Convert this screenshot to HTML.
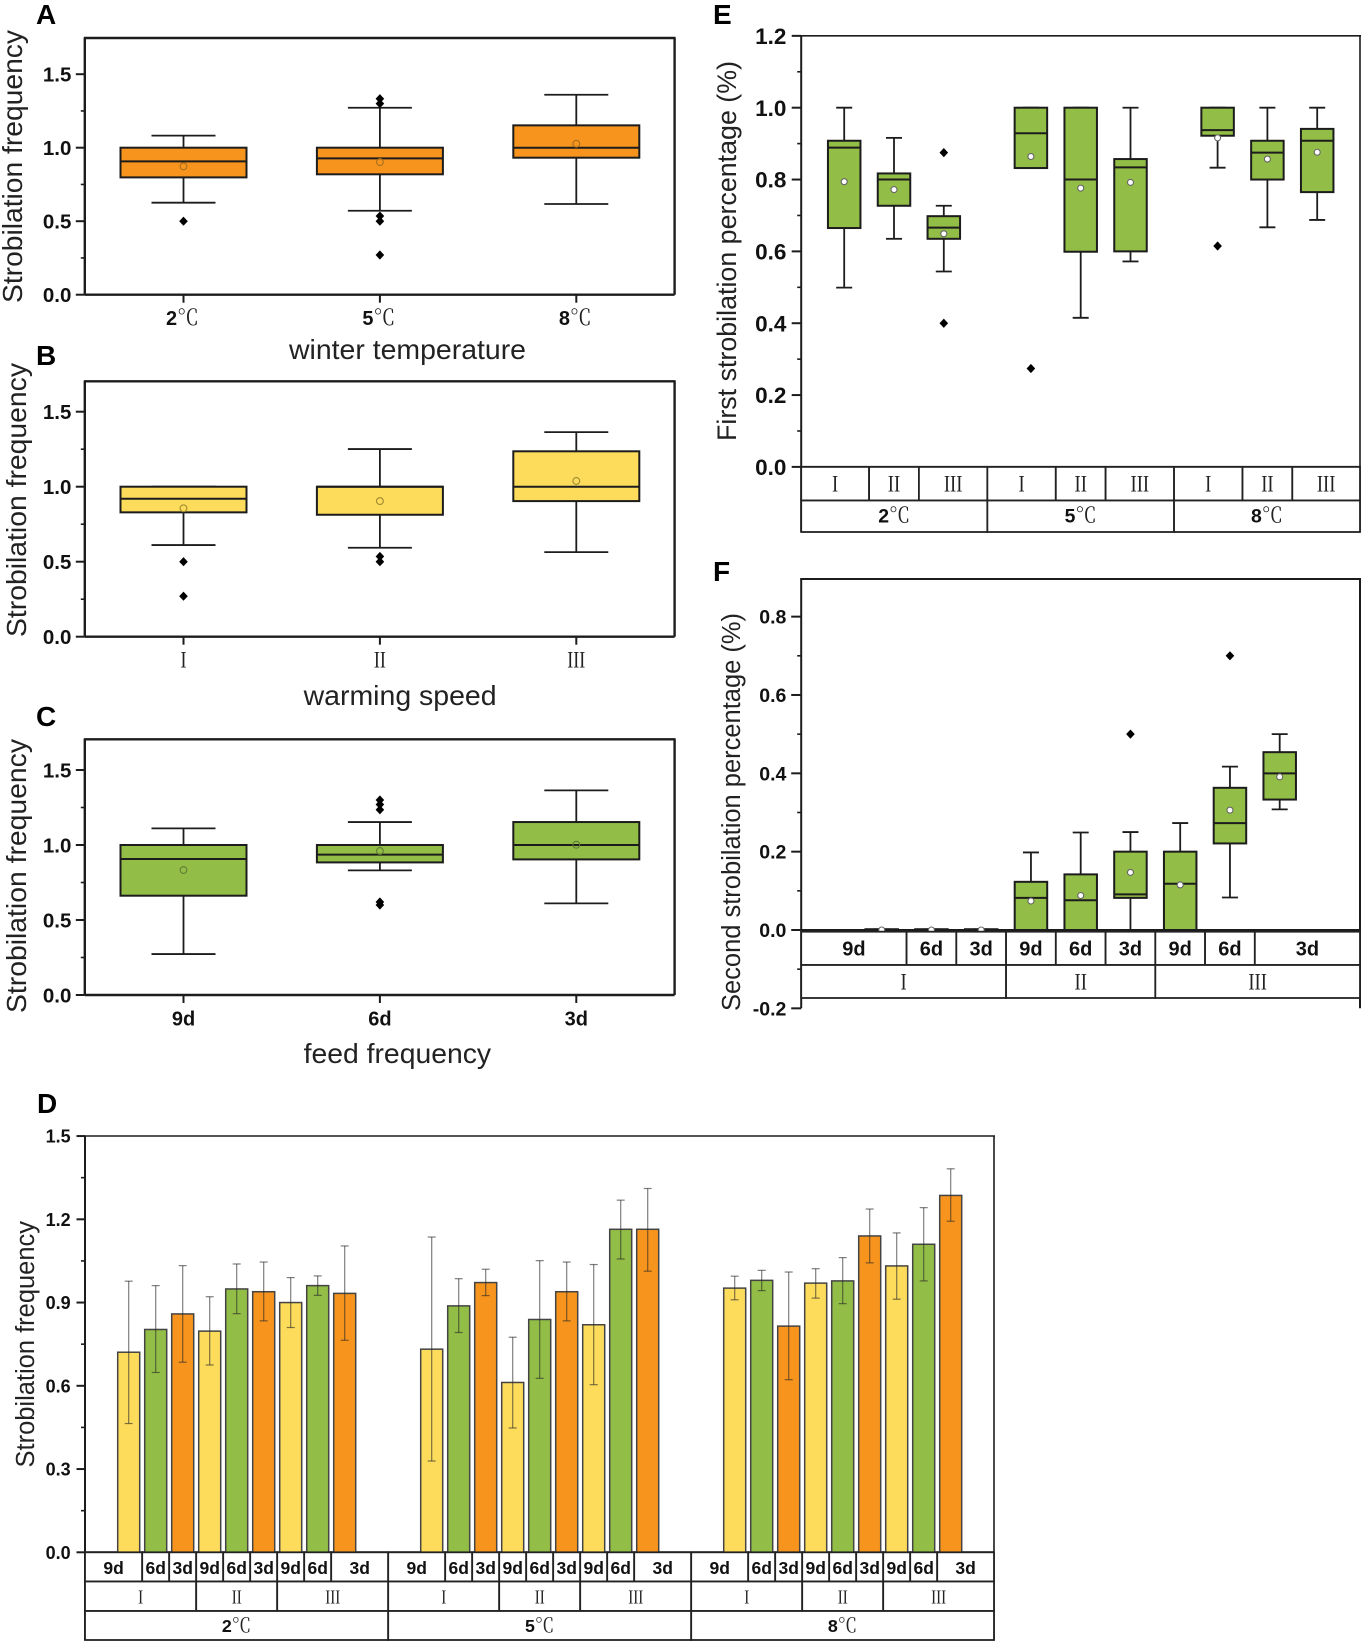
<!DOCTYPE html>
<html lang="en">
<head>
<meta charset="utf-8">
<title>Strobilation charts</title>
<style>
html,body{margin:0;padding:0;background:#fff}
svg{display:block}
text{font-family:"Liberation Sans","Noto Sans CJK SC",sans-serif;fill:#111}
.letter{font-size:28px;font-weight:bold;fill:#000}
.axt{font-size:28px;fill:#222}
</style>
</head>
<body>
<svg id="figure" xmlns="http://www.w3.org/2000/svg" width="1361" height="1642" viewBox="0 0 1361 1642">
  <rect width="1361" height="1642" fill="#fff"/>
  <g id="panel-a"></g>
  <g id="panel-b"></g>
  <g id="panel-c"></g>
  <g id="panel-d"></g>
  <g id="panel-e"></g>
  <g id="panel-f"></g>

  <text class="letter" x="36" y="24">A</text>
  <text class="letter" x="36" y="365">B</text>
  <text class="letter" x="36" y="726">C</text>
  <text class="letter" x="37" y="1113">D</text>
  <text class="letter" x="713" y="24">E</text>
  <text class="letter" x="713" y="581">F</text>

  <text class="axt" transform="translate(22,303) rotate(-90)" textLength="273" lengthAdjust="spacingAndGlyphs">Strobilation frequency</text>
  <text class="axt" transform="translate(26,637) rotate(-90)" textLength="274" lengthAdjust="spacingAndGlyphs">Strobilation frequency</text>
  <text class="axt" transform="translate(26,1013) rotate(-90)" textLength="274" lengthAdjust="spacingAndGlyphs">Strobilation frequency</text>
  <text class="axt" style="font-size:25.5px" transform="translate(34,1467.5) rotate(-90)" textLength="246.5" lengthAdjust="spacingAndGlyphs">Strobilation frequency</text>
  <text class="axt" style="font-size:27px" transform="translate(736,441) rotate(-90)" textLength="380" lengthAdjust="spacingAndGlyphs">First strobilation percentage (%)</text>
  <text class="axt" style="font-size:25.5px" transform="translate(740,1011) rotate(-90)" textLength="398" lengthAdjust="spacingAndGlyphs">Second strobilation percentage (%)</text>

  <text class="axt" style="font-size:28px" x="289" y="359" textLength="237" lengthAdjust="spacingAndGlyphs">winter temperature</text>
  <text class="axt" style="font-size:28px" x="303.6" y="705" textLength="193" lengthAdjust="spacingAndGlyphs">warming speed</text>
  <text class="axt" style="font-size:28px" x="303.6" y="1063" textLength="187.5" lengthAdjust="spacingAndGlyphs">feed frequency</text>
</svg>

<script>
// ---------- Panel A data ----------
const panelACategories = ['2℃', '5℃', '8℃'];
const panelAWhiskerHigh = [1.082, 1.272, 1.36];
const panelAQ3 = [1.0, 1.0, 1.152];
const panelAMedian = [0.907, 0.927, 1.0];
const panelAQ1 = [0.798, 0.819, 0.932];
const panelAWhiskerLow = [0.626, 0.571, 0.617];
const panelAMean = [0.873, 0.902, 1.027];
const panelAOutliers = [[0.5], [1.333, 1.30, 0.535, 0.5, 0.27], []];
const panelATicks = ['0.0', '0.5', '1.0', '1.5'];
const panelAMinorTicks = [0.25, 0.75, 1.25];

// ---------- Panel B data ----------
const panelBCategories = ['I', 'II', 'III'];
const panelBWhiskerHigh = [1.0, 1.251, 1.364];
const panelBQ3 = [1.0, 1.0, 1.236];
const panelBMedian = [0.92, 1.0, 1.0];
const panelBQ1 = [0.829, 0.813, 0.904];
const panelBWhiskerLow = [0.611, 0.593, 0.564];
const panelBMean = [0.856, 0.904, 1.038];
const panelBOutliers = [[0.5, 0.27], [0.535, 0.5], []];
const panelBTicks = ['0.0', '0.5', '1.0', '1.5'];
const panelBMinorTicks = [0.25, 0.75, 1.25];

// ---------- Panel C data ----------
const panelCCategories = ['9d', '6d', '3d'];
const panelCWhiskerHigh = [1.111, 1.153, 1.364];
const panelCQ3 = [1.0, 1.0, 1.153];
const panelCMedian = [0.907, 0.936, 1.0];
const panelCQ1 = [0.662, 0.884, 0.904];
const panelCWhiskerLow = [0.273, 0.831, 0.611];
const panelCMean = [0.833, 0.96, 1.002];
const panelCOutliers = [[], [1.30, 1.27, 1.235, 0.62, 0.6], []];
const panelCTicks = ['0.0', '0.5', '1.0', '1.5'];
const panelCMinorTicks = [0.25, 0.75, 1.25];

// ---------- Panel D data ----------
const panelDFeedLabels = ['9d', '6d', '3d', '9d', '6d', '3d', '9d', '6d', '3d'];
const panelDSpeedLabels = ['I', 'II', 'III'];
const panelDTempLabels = ['2℃', '5℃', '8℃'];
const panelDValues = [
  0.721, 0.803, 0.859, 0.797, 0.949, 0.939, 0.900, 0.961, 0.933,
  0.732, 0.888, 0.972, 0.612, 0.839, 0.939, 0.820, 1.164, 1.164,
  0.952, 0.980, 0.815, 0.970, 0.978, 1.140, 1.032, 1.110, 1.286
];
const panelDErrorHigh = [
  0.977, 0.961, 1.033, 0.921, 1.039, 1.046, 0.990, 0.996, 1.104,
  1.136, 0.986, 1.020, 0.775, 1.051, 1.046, 1.037, 1.269, 1.311,
  0.995, 1.016, 1.010, 1.022, 1.062, 1.237, 1.151, 1.242, 1.382
];
const panelDErrorLow = [
  0.464, 0.648, 0.685, 0.675, 0.860, 0.834, 0.810, 0.926, 0.764,
  0.329, 0.792, 0.925, 0.448, 0.627, 0.834, 0.604, 1.057, 1.013,
  0.910, 0.943, 0.622, 0.916, 0.896, 1.043, 0.912, 0.978, 1.193
];
const panelDTicks = ['0.0', '0.3', '0.6', '0.9', '1.2', '1.5'];
const panelDMinorTicks = [0.15, 0.45, 0.75, 1.05, 1.35];

// ---------- Panel E data ----------
const panelESpeedLabels = ['I', 'II', 'III', 'I', 'II', 'III', 'I', 'II', 'III'];
const panelETempLabels = ['2℃', '5℃', '8℃'];
const panelEWhiskerHigh = [1.0, 0.916, 0.727, 1.0, 1.0, 1.0, 1.0, 1.0, 1.0];
const panelEQ3 = [0.908, 0.817, 0.698, 1.0, 1.0, 0.857, 1.0, 0.908, 0.941];
const panelEMedian = [0.889, 0.8, 0.666, 0.929, 0.8, 0.834, 0.9375, 0.875, 0.908];
const panelEQ1 = [0.665, 0.727, 0.635, 0.832, 0.599, 0.6, 0.922, 0.8, 0.765];
const panelEWhiskerLow = [0.499, 0.635, 0.544, 0.832, 0.415, 0.572, 0.833, 0.667, 0.6875];
const panelEMean = [0.794, 0.772, 0.649, 0.864, 0.776, 0.792, 0.916, 0.857, 0.876];
const panelEOutliers = [[], [], [0.875, 0.4], [0.274], [], [], [0.615], [], []];
const panelETicks = ['0.0', '0.2', '0.4', '0.6', '0.8', '1.0', '1.2'];
const panelEMinorTicks = [0.1, 0.3, 0.5, 0.7, 0.9, 1.1];

// ---------- Panel F data ----------
const panelFFeedLabels = ['9d', '6d', '3d', '9d', '6d', '3d', '9d', '6d', '3d'];
const panelFSpeedLabels = ['I', 'II', 'III'];
const panelFWhiskerHigh = [0.002, 0.002, 0.002, 0.198, 0.249, 0.25, 0.273, 0.417, 0.5];
const panelFQ3 = [0.002, 0.002, 0.002, 0.123, 0.142, 0.2, 0.2, 0.363, 0.454];
const panelFMedian = [0, 0, 0, 0.082, 0.076, 0.091, 0.118, 0.273, 0.4];
const panelFQ1 = [0, 0, 0, 0, 0, 0.082, 0, 0.221, 0.333];
const panelFWhiskerLow = [0, 0, 0, 0, 0, 0, 0, 0.083, 0.308];
const panelFMean = [0, 0, 0, 0.074, 0.088, 0.147, 0.115, 0.306, 0.391];
const panelFOutliers = [[], [], [], [], [], [0.5], [], [0.7], []];
const panelFTicks = ['-0.2', '0.0', '0.2', '0.4', '0.6', '0.8'];
const panelFMinorTicks = [-0.1, 0.1, 0.3, 0.5, 0.7];

// ---------- Helpers ----------
const NS = 'http://www.w3.org/2000/svg';
const ORANGE = '#F7941D', YELLOW = '#FDDB5B', GREEN = '#92BD46', INK = '#1c1c1c';

function add(parent, tag, attrs, text) {
  const el = document.createElementNS(NS, tag);
  for (const k in attrs) el.setAttribute(k, attrs[k]);
  if (text !== undefined) el.textContent = text;
  parent.appendChild(el);
  return el;
}

function linearY(y0, pxPerUnit) {
  return function (v) { return y0 - v * pxPerUnit; };
}

function drawFrame(g, p, w) {
  const top = add(g, 'line', {x1: p.left - 1, x2: p.right + 1, y1: p.top, y2: p.top, stroke: INK, 'stroke-width': p.topWidth || w});
  
  
  const right = add(g, 'line', {x1: p.right, x2: p.right, y1: p.top, y2: p.axisBottom, stroke: INK, 'stroke-width': p.topWidth || w});
  
  
  const left = add(g, 'line', {x1: p.left, x2: p.left, y1: p.top, y2: p.axisBottom, stroke: INK, 'stroke-width': w});
  
  
  const base = add(g, 'line', {x1: p.left, x2: p.right, y1: p.y(0), y2: p.y(0), stroke: INK, 'stroke-width': w});
  
  
}

function drawYTicks(g, p, labels, minors) {
  labels.forEach(function (label) {
    const v = parseFloat(label);
    const t = add(g, 'line', {x1: p.left - p.majorLen, x2: p.left, y1: p.y(v), y2: p.y(v), stroke: INK, 'stroke-width': 2});
    
    
    const txt = add(g, 'text', {x: p.labelRight, y: p.y(v) + p.tickFont * 0.36, 'text-anchor': 'end', 'font-size': p.tickFont, 'font-weight': 'bold'}, label);
    
    
  });
  minors.forEach(function (v) {
    const t = add(g, 'line', {x1: p.left - p.minorLen, x2: p.left, y1: p.y(v), y2: p.y(v), stroke: INK, 'stroke-width': 1.6});
    
    
  });
}

function romanText(g, x, y, label, size, unitWidth) {
  const t = add(g, 'text', {x: x, y: y, 'text-anchor': 'middle', 'font-size': size, textLength: unitWidth * label.length, lengthAdjust: 'spacingAndGlyphs', style: 'font-family:"Liberation Serif",serif;fill:#222'}, label);
  
  
  return t;
}

function tempText(g, x, y, label, size) {
  const t = add(g, 'text', {x: x, y: y, 'text-anchor': 'middle', 'font-size': size});
  
  
  const num = add(t, 'tspan', {'font-weight': 'bold', 'font-size': size * 1.05}, label.charAt(0));
  
  
  const unit = add(t, 'tspan', {'font-size': size * 1.15, style: 'font-family:"Noto Serif CJK SC","Liberation Serif",serif;font-weight:400;fill:#222'}, label.slice(1));
  
  
}

function boldText(g, x, y, label, size) {
  const t = add(g, 'text', {x: x, y: y, 'text-anchor': 'middle', 'font-size': size, 'font-weight': 'bold'}, label);
  
  
}

function drawBox(g, x, y, s, i, style) {
  const group = add(g, 'g', {});
  
  
  const wh = add(group, 'line', {x1: x, x2: x, y1: y(s.high[i]), y2: y(s.q3[i]), stroke: INK, 'stroke-width': 1.8});
  
  
  const wl = add(group, 'line', {x1: x, x2: x, y1: y(s.q1[i]), y2: y(s.low[i]), stroke: INK, 'stroke-width': 1.8});
  
  
  const ch = add(group, 'line', {x1: x - style.capW / 2, x2: x + style.capW / 2, y1: y(s.high[i]), y2: y(s.high[i]), stroke: INK, 'stroke-width': 1.8});
  
  
  const cl = add(group, 'line', {x1: x - style.capW / 2, x2: x + style.capW / 2, y1: y(s.low[i]), y2: y(s.low[i]), stroke: INK, 'stroke-width': 1.8});
  
  
  const r = add(group, 'rect', {x: x - style.boxW / 2, y: y(s.q3[i]), width: style.boxW, height: y(s.q1[i]) - y(s.q3[i]), fill: style.fill, stroke: INK, 'stroke-width': 2});
  
  
  const m = add(group, 'line', {x1: x - style.boxW / 2, x2: x + style.boxW / 2, y1: y(s.median[i]), y2: y(s.median[i]), stroke: INK, 'stroke-width': 2});
  
  
  const c = add(group, 'circle', {cx: x, cy: y(s.mean[i]), r: style.meanR, fill: style.meanFill, stroke: style.meanStroke, 'stroke-width': 1.1});
  
  
  s.outliers[i].forEach(function (v) {
    const d = add(group, 'path', {d: 'M' + x + ' ' + (y(v) - 4.6) + 'L' + (x + 4.3) + ' ' + y(v) + 'L' + x + ' ' + (y(v) + 4.6) + 'L' + (x - 4.3) + ' ' + y(v) + 'Z', fill: '#000'});
    
    
  });
}

function cellEdges(centers, left, right) {
  const e = [left];
  for (let i = 0; i < centers.length - 1; i++) e.push((centers[i] + centers[i + 1]) / 2);
  e.push(right);
  return e;
}

function tableCell(g, x0, x1, y0, y1) {
  const r = add(g, 'rect', {x: x0, y: y0, width: x1 - x0, height: y1 - y0, fill: '#fff', stroke: '#222', 'stroke-width': 1.8});
  
  
}

// Small three-category box panels (A, B, C)
function drawSimplePanel(id, p, s, labels, minors, cats, catKind, fill, meanStroke, labelY) {
  const g = document.getElementById(id);
  const xOf = function (i) { return 183.5 + i * 196.4; };
  drawFrame(g, p, 2.4);
  drawYTicks(g, p, labels, minors);
  cats.forEach(function (label, i) {
    const t = add(g, 'line', {x1: xOf(i), x2: xOf(i), y1: p.y(0), y2: p.y(0) + 8, stroke: INK, 'stroke-width': 2});
    
    
    if (catKind === 'temp') tempText(g, xOf(i) - 1, labelY, label, 19);
    if (catKind === 'roman') romanText(g, xOf(i), labelY, label, 23, 6);
    if (catKind === 'feed') boldText(g, xOf(i), labelY, label, 20);
    drawBox(g, xOf(i), p.y, s, i, {prefix: label, boxW: 126, capW: 64, fill: fill, meanR: 3.4, meanFill: 'none', meanStroke: meanStroke});
  });
}

// ---------- Panel A ----------
const plotA = {left: 84.8, right: 674.6, top: 38, axisBottom: 294.7, y: linearY(294.7, 147), majorLen: 9, minorLen: 4, labelRight: 71.4, tickFont: 20.5};
drawSimplePanel('panel-a', plotA, {high: panelAWhiskerHigh, q3: panelAQ3, median: panelAMedian, q1: panelAQ1, low: panelAWhiskerLow, mean: panelAMean, outliers: panelAOutliers}, panelATicks, panelAMinorTicks, panelACategories, 'temp', ORANGE, '#a8701f', 325);

// ---------- Panel B ----------
const plotB = {left: 84.8, right: 674.6, top: 381.3, axisBottom: 636.7, y: linearY(636.7, 150), majorLen: 9, minorLen: 4, labelRight: 71.4, tickFont: 20.5};
drawSimplePanel('panel-b', plotB, {high: panelBWhiskerHigh, q3: panelBQ3, median: panelBMedian, q1: panelBQ1, low: panelBWhiskerLow, mean: panelBMean, outliers: panelBOutliers}, panelBTicks, panelBMinorTicks, panelBCategories, 'roman', YELLOW, '#a08a30', 667.3);

// ---------- Panel C ----------
const plotC = {left: 84.8, right: 674.6, top: 739.3, axisBottom: 995, y: linearY(995, 150), majorLen: 9, minorLen: 4, labelRight: 71.4, tickFont: 20.5};
drawSimplePanel('panel-c', plotC, {high: panelCWhiskerHigh, q3: panelCQ3, median: panelCMedian, q1: panelCQ1, low: panelCWhiskerLow, mean: panelCMean, outliers: panelCOutliers}, panelCTicks, panelCMinorTicks, panelCCategories, 'feed', GREEN, '#5f7d35', 1025.7);

// ---------- Panel D ----------
(function () {
  const g = document.getElementById('panel-d');
  const p = {left: 85, right: 994, top: 1136, axisBottom: 1640, y: linearY(1552.3, 277.5), majorLen: 8.5, minorLen: 4, labelRight: 70.7, tickFont: 18, topWidth: 1.6};
  const xOf = function (i) { return 128.7 + i * 27 + Math.floor(i / 9) * 60; };
  const barColors = [YELLOW, GREEN, ORANGE];
  drawFrame(g, p, 2);
  drawYTicks(g, p, panelDTicks, panelDMinorTicks);
  const centers = panelDValues.map(function (_, i) { return xOf(i); });
  panelDValues.forEach(function (v, i) {
    const x = xOf(i);
    const bar = add(g, 'rect', {x: x - 11, y: p.y(v), width: 22, height: p.y(0) - p.y(v), fill: barColors[i % 3], stroke: '#444', 'stroke-width': 1.5});
    
    
    const e = add(g, 'line', {x1: x, x2: x, y1: p.y(panelDErrorHigh[i]), y2: p.y(panelDErrorLow[i]), stroke: 'rgba(40,40,40,0.6)', 'stroke-width': 1.2});
    
    
    const ch = add(g, 'line', {x1: x - 4, x2: x + 4, y1: p.y(panelDErrorHigh[i]), y2: p.y(panelDErrorHigh[i]), stroke: 'rgba(40,40,40,0.6)', 'stroke-width': 1.2});
    
    
    const cl = add(g, 'line', {x1: x - 4, x2: x + 4, y1: p.y(panelDErrorLow[i]), y2: p.y(panelDErrorLow[i]), stroke: 'rgba(40,40,40,0.6)', 'stroke-width': 1.2});
    
    
  });
  const edges = cellEdges(centers, p.left, p.right);
  const rows = [1552.3, 1581.5, 1611, 1640];
  centers.forEach(function (c, i) {
    tableCell(g, edges[i], edges[i + 1], rows[0], rows[1]);
    boldText(g, (edges[i] + edges[i + 1]) / 2, 1574, panelDFeedLabels[i % 9], 17.5);
  });
  for (let i = 0; i < 9; i++) {
    tableCell(g, edges[i * 3], edges[i * 3 + 3], rows[1], rows[2]);
    romanText(g, (edges[i * 3] + edges[i * 3 + 3]) / 2, 1603.4, panelDSpeedLabels[i % 3], 20, 5);
  }
  for (let i = 0; i < 3; i++) {
    tableCell(g, edges[i * 9], edges[i * 9 + 9], rows[2], rows[3]);
    tempText(g, (edges[i * 9] + edges[i * 9 + 9]) / 2, 1632, panelDTempLabels[i], 17);
  }
})();

// ---------- Panel E ----------
(function () {
  const g = document.getElementById('panel-e');
  const p = {left: 801.2, right: 1360, top: 35.8, axisBottom: 532, y: linearY(466.9, 359.2), majorLen: 9.5, minorLen: 4, labelRight: 786.4, tickFont: 22.5, topWidth: 1.6};
  const xOf = function (i) { return 844.2 + i * 49.8 + Math.floor(i / 3) * 37.3; };
  const s = {high: panelEWhiskerHigh, q3: panelEQ3, median: panelEMedian, q1: panelEQ1, low: panelEWhiskerLow, mean: panelEMean, outliers: panelEOutliers};
  drawFrame(g, p, 2);
  drawYTicks(g, p, panelETicks, panelEMinorTicks);
  const centers = panelESpeedLabels.map(function (_, i) { return xOf(i); });
  centers.forEach(function (x, i) {
    drawBox(g, x, p.y, s, i, {prefix: 'e', boxW: 32.5, capW: 16, fill: GREEN, meanR: 3, meanFill: '#fff', meanStroke: '#666'});
  });
  const edges = cellEdges(centers, p.left, p.right);
  const rows = [466.9, 500.5, 532];
  centers.forEach(function (c, i) {
    tableCell(g, edges[i], edges[i + 1], rows[0], rows[1]);
    romanText(g, (edges[i] + edges[i + 1]) / 2, 491.5, panelESpeedLabels[i], 23, 6.2);
  });
  for (let i = 0; i < 3; i++) {
    tableCell(g, edges[i * 3], edges[i * 3 + 3], rows[1], rows[2]);
    tempText(g, (edges[i * 3] + edges[i * 3 + 3]) / 2, 522.6, panelETempLabels[i], 18.5);
  }
})();

// ---------- Panel F ----------
(function () {
  const g = document.getElementById('panel-f');
  const p = {left: 801.2, right: 1360, top: 579, axisBottom: 1008.3, y: linearY(930, 391.7), majorLen: 10, minorLen: 4, labelRight: 786.4, tickFont: 19.5};
  const xOf = function (i) { return 881.7 + i * 49.75; };
  const s = {high: panelFWhiskerHigh, q3: panelFQ3, median: panelFMedian, q1: panelFQ1, low: panelFWhiskerLow, mean: panelFMean, outliers: panelFOutliers};
  drawFrame(g, p, 2);
  drawYTicks(g, p, panelFTicks, panelFMinorTicks);
  const centers = panelFFeedLabels.map(function (_, i) { return xOf(i); });
  centers.forEach(function (x, i) {
    drawBox(g, x, p.y, s, i, {prefix: 'f', boxW: 32.5, capW: 16, fill: GREEN, meanR: 3, meanFill: '#fff', meanStroke: '#666'});
  });
  const edges = cellEdges(centers, p.left, p.right);
  const rows = [931.7, 965, 998];
  centers.forEach(function (c, i) {
    tableCell(g, edges[i], edges[i + 1], rows[0], rows[1]);
    boldText(g, (edges[i] + edges[i + 1]) / 2, 955.7, panelFFeedLabels[i], 20);
  });
  for (let i = 0; i < 3; i++) {
    tableCell(g, edges[i * 3], edges[i * 3 + 3], rows[1], rows[2]);
    romanText(g, (edges[i * 3] + edges[i * 3 + 3]) / 2, 989.3, panelFSpeedLabels[i], 23, 6.2);
  }
})();
</script>
</body>
</html>
